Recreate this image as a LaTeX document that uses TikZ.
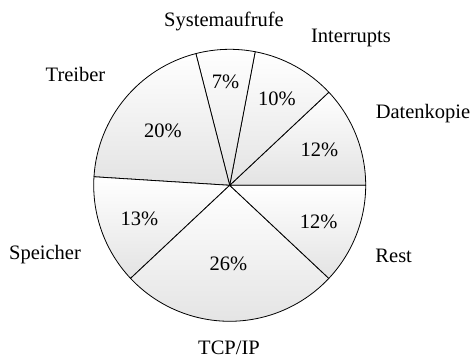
\documentclass[tikz,border=0pt]{standalone}
\usepackage{fontspec}
\setmainfont{Liberation Serif}
\begin{document}
\begin{tikzpicture}[x=1pt,y=1pt,
  lbl/.style={anchor=base,inner sep=0pt,font=\fontsize{20.5}{24}\selectfont},
  slice/.style={top color=white,bottom color=black!11,draw=black,line width=0.8pt,line join=round}]
\useasboundingbox (0,0) rectangle (472,360);
\coordinate (c) at (229.7,174.7);
\def\R{136}
\foreach \a/\b in {0/43.2,43.2/79.2,79.2/104.4,104.4/176.4,176.4/223.2,223.2/316.8,316.8/360}{
  \path[slice] (c) -- ++(\a:\R) arc[start angle=\a,end angle=\b,radius=\R] -- cycle;
}
\node[lbl] (sys) at (224,333.3) {Systemaufrufe};
\node[lbl] (int) at (351,317.3) {Interrupts};
\node[lbl] (trb) at (75.5,279) {Treiber};
\node[lbl] (dat) at (423,241.7) {Datenkopie};
\node[lbl] (spe) at (45,101) {Speicher};
\node[lbl] (rst) at (393.7,97.3) {Rest};
\node[lbl] (tcp) at (229,5.7) {TCP/IP};
\node[lbl] (p7) at (225.5,271.7) {7\%};
\node[lbl] (p10) at (277,255) {10\%};
\node[lbl] (p20) at (163,222.3) {20\%};
\node[lbl] (p12a) at (319.5,203.3) {12\%};
\node[lbl] (p13) at (139.5,135) {13\%};
\node[lbl] (p12b) at (318.7,131.7) {12\%};
\node[lbl] (p26) at (228.3,90) {26\%};
\end{tikzpicture}
\end{document}
